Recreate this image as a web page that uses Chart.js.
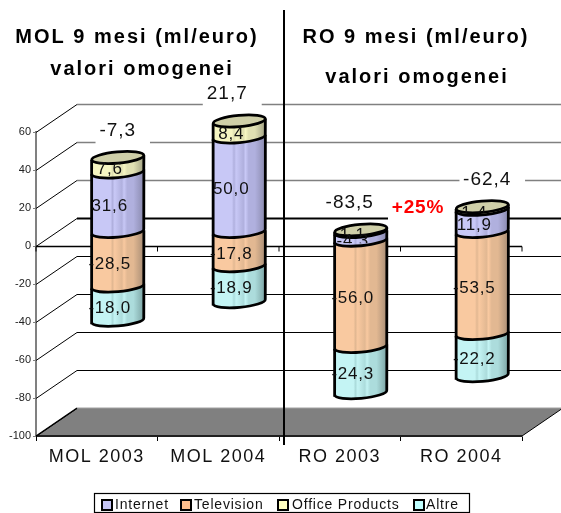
<!DOCTYPE html>
<html><head><meta charset="utf-8">
<style>html,body{margin:0;padding:0;background:#fff}#w{width:561px;height:513px;position:relative}</style>
<script src="https://cdn.jsdelivr.net/npm/chart.js@4"></script>
</head><body><div id="w"><canvas id="c" width="561" height="513"></canvas></div>
<script>
const categories = ['MOL 2003','MOL 2004','RO 2003','RO 2004'];
const internet   = [31.6, 50.0, -4.3, 11.9];
const television = [-28.5, -17.8, -56.0, -53.5];
const office     = [7.6, 8.4, 1.1, 1.4];
const altre      = [-18.0, -18.9, -24.3, -22.2];
const totals     = [-7.3, 21.7, -83.5, -62.4];
const seriesNames = ['Internet','Television','Office Products','Altre'];
const titleLeft  = ['MOL 9 mesi (ml/euro)','valori omogenei'];
const titleRight = ['RO 9 mesi (ml/euro)','valori omogenei'];
const note = '+25%';

const FONT = '"Liberation Sans", Arial, sans-serif';
const DX = 41, DY = -28, BDX = 21, BDY = -14, RY = 5.6, TILT = -0.09;
const totalNudge = [0,-12,-11,5];
const palette = [
 {fill:'#c4c4f4',l:'#c8c8f6',m:'#b0b0de',d:'#8a8aae'},
 {fill:'#ffbf8c',l:'#f9c9a0',m:'#e2b892',d:'#a98e76'},
 {fill:'#ffffc0',l:'#f6f6c2',m:'#e0e0b2',d:'#a2a284'},
 {fill:'#c0ffff',l:'#c4f4f4',m:'#acdcdc',d:'#7ca4a4'}
];
const fmt = v => v.toFixed(1).replace('.',',');

function txt(ctx,s,x,y,font,color,align,ls){
  ctx.save();ctx.font=font;ctx.fillStyle=color;ctx.textAlign=align||'center';ctx.textBaseline='middle';
  ctx.letterSpacing=(ls||0)+'px';ctx.fillText(s,x,y);ctx.restore();
}
function line(ctx,x1,y1,x2,y2,c,w){ctx.strokeStyle=c;ctx.lineWidth=w;ctx.beginPath();ctx.moveTo(x1,y1);ctx.lineTo(x2,y2);ctx.stroke();}

const wall = {
  id:'wall',
  beforeDatasetsDraw(chart){
    const ctx=chart.ctx,a=chart.chartArea,y=chart.scales.y;
    ctx.save();
    const yb=y.getPixelForValue(-100);
    ctx.fillStyle='#808080';ctx.beginPath();
    ctx.moveTo(a.left,yb);ctx.lineTo(a.right,yb);ctx.lineTo(a.right+DX,yb+DY);ctx.lineTo(a.left+DX,yb+DY);ctx.closePath();ctx.fill();
    line(ctx,a.left+DX,yb+DY,a.right+DX,yb+DY,'#a0a0a0',1);
    line(ctx,a.right,yb,a.right+DX,yb+DY,'#000',1);
    y.ticks.forEach(t=>{
      const p=Math.round(y.getPixelForValue(t.value))+0.5;
      const col=t.value>0?'#808080':'#000';
      const w=t.value>0?1.6:(t.value===0?2:1.2);
      line(ctx,a.left,p,a.left+DX,p+DY,'#000',1);
      if(t.value>-100) line(ctx,a.left+DX,p+DY,a.right+DX,p+DY,col,w);
    });
    line(ctx,a.left,yb,a.left+DX,yb+DY,'#000',1.2);
    line(ctx,a.left,yb,a.right,yb,'#000',1.5);
    const z=Math.round(y.getPixelForValue(0))+0.5;
    line(ctx,a.left,z,a.right,z,'#000',1.4);
    for(let i=0;i<=categories.length;i++){
      const x=a.left+(a.right-a.left)*i/categories.length;
      line(ctx,x,z,x,z+5,'#000',1);
    }
    ctx.fillStyle='#fff';
    totals.forEach((v,i)=>{
      const m=stackTop(chart,i);
      const cx=m.x+totalNudge[i]+5, cy=m.top-27;
      ctx.font='20px '+FONT;
      const hw=ctx.measureText(fmt(v)).width/2+10;
      ctx.fillRect(cx-hw,cy-12,hw*2,26);
    });
    ctx.fillRect(388,196,68,24);
    ctx.restore();
  },
  beforeDatasetDraw(){return false;},
  afterDatasetsDraw(chart){
    const ctx=chart.ctx;
    ctx.save();
    categories.forEach((c,i)=>drawCyl(chart,i));
    totals.forEach((v,i)=>{
      const m=stackTop(chart,i);
      txt(ctx,fmt(v),m.x+totalNudge[i],m.top-27,'19px '+FONT,'#111','center',1);
    });
    txt(ctx,note,418,208,'bold 19px '+FONT,'#ff0000','center',0.8);
    const tf='bold 20px '+FONT;
    txt(ctx,titleLeft[0],137,37,tf,'#000','center',2);
    txt(ctx,titleLeft[1],142,69,tf,'#000','center',2);
    txt(ctx,titleRight[0],416,37,tf,'#000','center',2);
    txt(ctx,titleRight[1],417,77,tf,'#000','center',2);
    line(ctx,284,10,284,445,'#000',2);
    ctx.strokeStyle='#000';ctx.lineWidth=1.2;ctx.strokeRect(94.5,493.5,375,19);
    const sx=[101,180,277,413], tx=[115,194,292,426];
    seriesNames.forEach((n,i)=>{
      ctx.fillStyle=palette[i].fill;ctx.strokeStyle='#000';ctx.lineWidth=2;
      ctx.fillRect(sx[i]+1,500,10,10);ctx.strokeRect(sx[i]+1,500,10,10);
      txt(ctx,n,tx[i],505,'14px '+FONT,'#111','left',0.8);
    });
    ctx.restore();
  }
};
function segs(chart,i){
  const out=[];
  chart.data.datasets.forEach((d,k)=>{
    const b=chart.getDatasetMeta(k).data[i];
    out.push({k,v:d.data[i],x:b.x+BDX,w:b.width,t:Math.min(b.y,b.base)+BDY,b:Math.max(b.y,b.base)+BDY});
  });
  return out;
}
function stackTop(chart,i){
  const s=segs(chart,i);
  return {x:s[0].x,top:Math.min(...s.map(e=>e.t))};
}
function band(ctx,s){
  const rx=s.w/2, sl=Math.tan(-TILT)*rx;
  const g=ctx.createLinearGradient(s.x-rx,0,s.x+rx,0),p=palette[s.k];
  g.addColorStop(0,p.l);g.addColorStop(.36,p.l);g.addColorStop(.4,p.m);g.addColorStop(.44,p.l);
  g.addColorStop(.58,p.m);g.addColorStop(.62,p.l);g.addColorStop(.68,p.m);
  g.addColorStop(.8,p.m);g.addColorStop(1,p.d);
  ctx.fillStyle=g;ctx.beginPath();
  ctx.moveTo(s.x-rx,s.t+sl);
  ctx.lineTo(s.x-rx,s.b+sl);
  ctx.ellipse(s.x,s.b,rx,RY,TILT,Math.PI,0,true);
  ctx.lineTo(s.x+rx,s.t-sl);
  ctx.closePath();ctx.fill();
  ctx.strokeStyle='#000';ctx.lineWidth=2.8;
  ctx.beginPath();ctx.moveTo(s.x-rx,s.t+sl);ctx.lineTo(s.x-rx,s.b+sl);
  ctx.ellipse(s.x,s.b,rx,RY,TILT,Math.PI,0,true);ctx.lineTo(s.x+rx,s.t-sl);ctx.stroke();
}
function drawCyl(chart,i){
  const ctx=chart.ctx;
  const s=segs(chart,i).sort((a,b)=>b.b-a.b);
  s.forEach(e=>band(ctx,e));
  const top=s[s.length-1], rx=top.w/2;
  ctx.fillStyle='#cfcfa8';ctx.strokeStyle='#000';ctx.lineWidth=2.8;
  ctx.beginPath();ctx.ellipse(top.x,top.t,rx,RY,TILT,0,Math.PI*2);ctx.fill();ctx.stroke();
  s.forEach(e=>{
    const cy=(e.t+e.b)/2+5, cx=e.x-8;
    ctx.save();
    if(e.b-e.t<12){ctx.beginPath();ctx.rect(e.x-30,e.t-5,60,e.b-e.t+8);ctx.clip();}
    txt(ctx,fmt(e.v),cx,cy,'17px '+FONT,'#111','center',0.8);
    ctx.restore();
  });
}

new Chart(document.getElementById('c'),{
  type:'bar',
  data:{labels:categories,datasets:[
    {label:seriesNames[0],data:internet,backgroundColor:palette[0].fill},
    {label:seriesNames[1],data:television,backgroundColor:palette[1].fill},
    {label:seriesNames[2],data:office,backgroundColor:palette[2].fill},
    {label:seriesNames[3],data:altre,backgroundColor:palette[3].fill}
  ]},
  options:{
    responsive:false,animation:false,
    barPercentage:0.43,categoryPercentage:1,
    layout:{padding:{top:132,right:39,left:0,bottom:0}},
    plugins:{legend:{display:false},tooltip:{enabled:false},title:{display:false}},
    scales:{
      x:{stacked:true,
        afterFit(s){
          s.height=77;
          if(!s._spaced){s._spaced=true;const o=s.drawLabels;
            s.drawLabels=function(a){this.ctx.letterSpacing='1.5px';o.call(this,a);this.ctx.letterSpacing='0px';};}
        },
        grid:{drawOnChartArea:false,drawTicks:true,tickLength:5,color:'#000'},
        border:{color:'#808080',width:1},
        ticks:{color:'#111',font:{family:'Liberation Sans',size:18},padding:5,maxRotation:0,autoSkip:false}},
      y:{stacked:true,min:-100,max:60,
        afterFit(s){s.width=36;},
        grid:{drawOnChartArea:false,drawTicks:true,tickLength:3,color:'#808080'},
        border:{color:'#808080',width:2},
        ticks:{stepSize:20,color:'#222',font:{family:'Liberation Sans',size:11},padding:2}}
    }
  },
  plugins:[wall]
});
</script></body></html>
